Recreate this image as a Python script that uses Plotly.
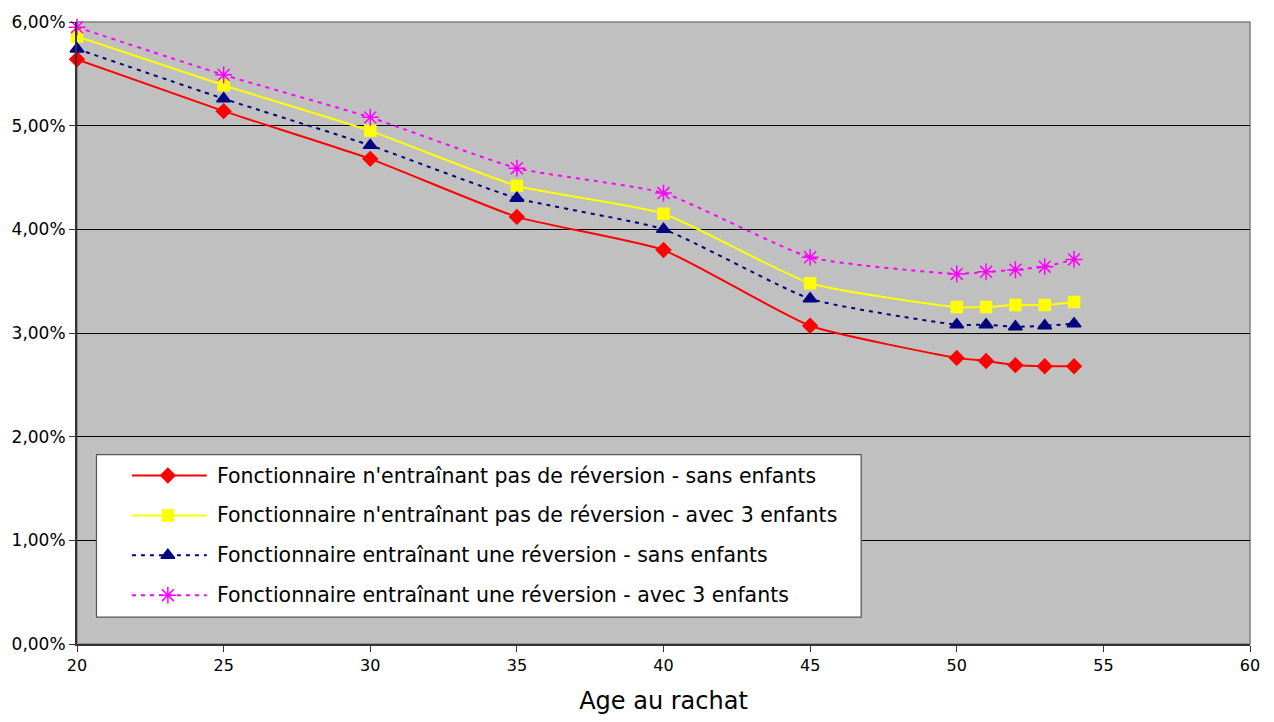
import plotly.graph_objects as go

# Age at buy-back and rates for each profile
ages = [20, 25, 30, 35, 40, 45, 50, 51, 52, 53, 54]

series_names = [
    "Fonctionnaire n'entraînant pas de réversion - sans enfants",
    "Fonctionnaire n'entraînant pas de réversion - avec 3 enfants",
    "Fonctionnaire entraînant une réversion - sans enfants",
    "Fonctionnaire entraînant une réversion - avec 3 enfants",
]

sans_reversion_0 = [5.64, 5.14, 4.68, 4.12, 3.80, 3.07, 2.76, 2.73, 2.69, 2.68, 2.68]
sans_reversion_3 = [5.86, 5.39, 4.95, 4.42, 4.15, 3.48, 3.25, 3.25, 3.27, 3.27, 3.30]
reversion_0 = [5.74, 5.26, 4.81, 4.30, 4.00, 3.33, 3.08, 3.08, 3.06, 3.07, 3.09]
reversion_3 = [5.95, 5.49, 5.08, 4.59, 4.35, 3.73, 3.57, 3.59, 3.61, 3.64, 3.71]

y_ticks = [0, 1, 2, 3, 4, 5, 6]
x_ticks = [20, 25, 30, 35, 40, 45, 50, 55, 60]

values = [sans_reversion_0, sans_reversion_3, reversion_0, reversion_3]
colors = ["#FF0000", "#FFFF00", "#000080", "#FF00FF"]
dashes = ["solid", "solid", "4px,5px", "4px,5px"]
symbols = ["diamond", "square", "triangle-up", "asterisk-open"]
msizes = [11, 11, 12, 14]

FONT = "DejaVu Sans"

fig = go.Figure()
for name, vals, col, dash, sym, ms in zip(series_names, values, colors, dashes, symbols, msizes):
    fig.add_trace(go.Scatter(
        x=ages, y=[v / 100 for v in vals], name=name, mode="lines+markers",
        line=dict(color=col, width=2, dash=dash, shape="spline", smoothing=0.5),
        marker=dict(symbol=sym, size=ms, color=col, line=dict(color=col, width=1.5)),
        cliponaxis=False, showlegend=False, hoverinfo="skip",
    ))

# Hand-built legend box inside the plot area
W, H = 1274, 722
L, R, T, B = 75, 24, 20, 78
pw, ph = W - L - R, H - T - B
X0, X1 = 20, 60
Y0, Y1 = 0.0, 0.06


def fx(px):
    return (px - L) / pw


def fy(py):
    return (H - B - py) / ph


# box drawn over the gridlines but under the legend samples
fig.add_shape(type="rect", xref="x", yref="y", layer="between",
              x0=X0 + fx(94.5) * (X1 - X0), x1=X0 + fx(860.5) * (X1 - X0),
              y0=Y0 + fy(617) * (Y1 - Y0), y1=Y0 + fy(454) * (Y1 - Y0),
              fillcolor="white", line=dict(color="#555555", width=1.2))

row_y = [475, 515, 555, 595]
for name, col, dash, sym, ms, ry in zip(series_names, colors, dashes, symbols, msizes, row_y):
    fig.add_trace(go.Scatter(
        x=[fx(130), fx(205)], y=[fy(ry), fy(ry)], xaxis="x2", yaxis="y2",
        mode="lines", line=dict(color=col, width=2, dash=dash),
        showlegend=False, hoverinfo="skip",
    ))
    fig.add_trace(go.Scatter(
        x=[fx(166)], y=[fy(ry)], xaxis="x2", yaxis="y2", mode="markers",
        marker=dict(symbol=sym, size=ms, color=col, line=dict(color=col, width=1.5)),
        showlegend=False, hoverinfo="skip",
    ))
    fig.add_annotation(x=fx(213), y=fy(ry), xref="paper", yref="paper",
                       text=name, showarrow=False, xanchor="left", yanchor="middle",
                       font=dict(family=FONT, size=20.5, color="black"))

fig.update_layout(
    width=W, height=H,
    margin=dict(l=L, r=R, t=T, b=B),
    paper_bgcolor="white",
    plot_bgcolor="#C0C0C0",
    separators=",.",
    font=dict(family=FONT, color="black"),
    xaxis=dict(
        range=[X0, X1], tickvals=x_ticks, ticks="outside", ticklen=6, tickcolor="#333333",
        showgrid=False, zeroline=False, showline=True, linecolor="#333333", linewidth=2,
        mirror=False, tickfont=dict(size=16),
        title=dict(text="Age au rachat", font=dict(size=24), standoff=18),
    ),
    yaxis=dict(
        range=[Y0, Y1], tickvals=[t / 100 for t in y_ticks], tickformat=".2%",
        ticks="outside", ticklen=6, tickcolor="#333333",
        showgrid=True, gridcolor="black", gridwidth=1, zeroline=False,
        showline=True, linecolor="#333333", linewidth=2, tickfont=dict(size=17),
    ),
    xaxis2=dict(overlaying="x", range=[0, 1], visible=False),
    yaxis2=dict(overlaying="y", range=[0, 1], visible=False),
    showlegend=False,
)

# grey frame on the top and right of the plot area
fig.add_shape(type="rect", xref="paper", yref="paper", x0=0, x1=1, y0=0, y1=1,
              line=dict(color="#808080", width=1.5), layer="below")

fig.write_html("out.html")
